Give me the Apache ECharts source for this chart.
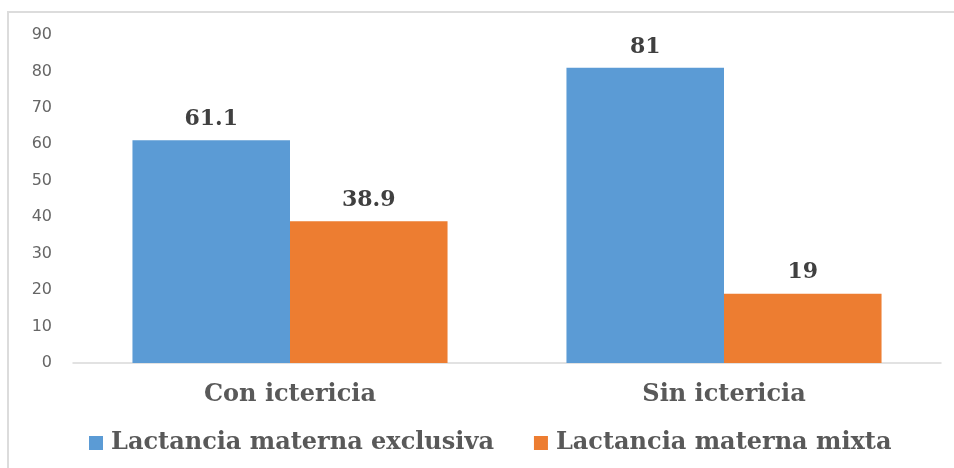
<!DOCTYPE html>
<html><head><meta charset="utf-8">
<script src="https://cdn.jsdelivr.net/npm/echarts@6/dist/echarts.min.js"></script>
<style>
html,body{margin:0;padding:0;background:#fff;overflow:hidden;}
#frame{position:absolute;left:7px;top:11px;right:0;bottom:0;border-left:2px solid #dcdcdc;border-top:2px solid #dcdcdc;}
#c{position:absolute;left:0;top:0;width:954px;height:468px;}
</style></head>
<body>
<div id="frame"></div>
<div id="c"></div>
<script>
const categories = ['Con ictericia', 'Sin ictericia'];
const seriesNames = ['Lactancia materna exclusiva', 'Lactancia materna mixta'];
const exclusiva = [61.1, 81];
const mixta = [38.9, 19];
const yTicks = [0, 10, 20, 30, 40, 50, 60, 70, 80, 90];

const chart = echarts.init(document.getElementById('c'));
const serif = '"DejaVu Serif", "Liberation Serif", serif';
const lbl = {show: true, position: 'top', distance: 10, fontFamily: serif, fontWeight: 'bold', fontSize: 22, color: '#404040'};
chart.setOption({
  animation: false,
  color: ['#5b9bd5', '#ed7d31'],
  grid: {left: 73, right: 13, top: 35, bottom: 105},
  legend: {
    data: seriesNames, top: 426, left: 84, itemWidth: 14, itemHeight: 14, itemGap: 40,
    icon: 'rect',
    textStyle: {fontFamily: serif, fontWeight: 'bold', fontSize: 24, color: '#595959', padding: [0, 0, 0, 3]}
  },
  xAxis: {
    type: 'category', data: categories,
    axisLine: {lineStyle: {color: '#d9d9d9', width: 1.5}},
    axisTick: {show: false},
    axisLabel: {fontFamily: serif, fontWeight: 'bold', fontSize: 24, color: '#595959', margin: 20}
  },
  yAxis: {
    type: 'value', min: yTicks[0], max: yTicks[yTicks.length-1], interval: 10,
    axisLine: {show: false}, axisTick: {show: false},
    splitLine: {show: false},
    axisLabel: {fontFamily: '"DejaVu Sans", sans-serif', fontSize: 16, color: '#666666', margin: 21}
  },
  series: [
    {name: seriesNames[0], type: 'bar', data: exclusiva, barGap: '0%', barCategoryGap: '27.4%', label: lbl},
    {name: seriesNames[1], type: 'bar', data: mixta, barGap: '0%', barCategoryGap: '27.4%', label: lbl}
  ]
});
</script>
</body></html>
